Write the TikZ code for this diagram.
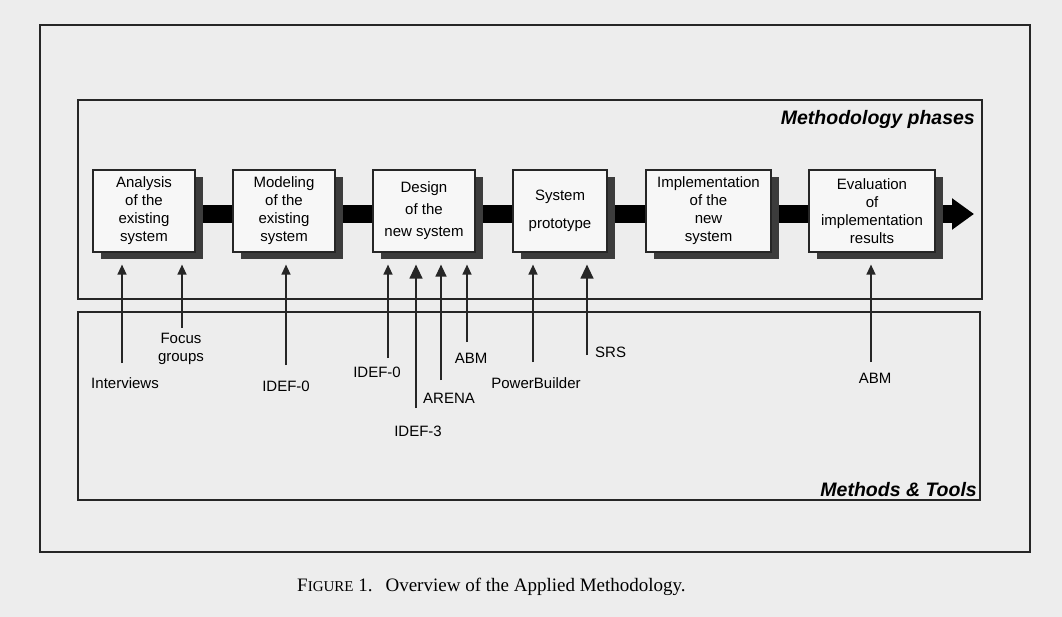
\documentclass[tikz,border=0pt]{standalone}
\usepackage{fontspec}
\setmainfont{Liberation Serif}
\setsansfont{Liberation Sans}
\usetikzlibrary{arrows.meta,shadows,calc}

\definecolor{paper}{HTML}{EDEDED}
\definecolor{boxfill}{HTML}{F7F7F7}
\definecolor{ink}{HTML}{262626}
\definecolor{shade}{HTML}{3C3C3C}

\pgfdeclarelayer{paperlayer}
\pgfdeclarelayer{barlayer}
\pgfsetlayers{paperlayer,barlayer,main}

\begin{document}
\begin{tikzpicture}[x=1pt,y=-1pt,
  phase/.style={draw=ink, line width=1.2pt, fill=boxfill, align=center,
    font=\sffamily\fontsize{15}{18}\selectfont, inner sep=0pt,
    minimum height=82pt,
    drop shadow={shadow xshift=8pt, shadow yshift=-7pt, fill=shade, opacity=1}},
  frame/.style={draw=ink, line width=1.3pt},
  flowbar/.style={draw=black, line width=18pt},
  feed/.style={draw=ink, line width=1.3pt, -{Triangle[length=10pt,width=9pt]}},
  midfeed/.style={draw=ink, line width=1.3pt, -{Triangle[length=12pt,width=11pt]}},
  bigfeed/.style={draw=ink, line width=1.3pt, -{Triangle[length=14pt,width=13pt]}},
  tool/.style={font=\sffamily\fontsize{15}{18}\selectfont, inner sep=0pt, align=center},
  heading/.style={font=\sffamily\bfseries\itshape\fontsize{19.5}{22}\selectfont, inner sep=0pt, anchor=east},
]
\useasboundingbox (0,0) rectangle (1062,617);
\begin{pgfonlayer}{paperlayer}
  \fill[paper] (0,0) rectangle (1062,617);
\end{pgfonlayer}

% frames
\draw[frame] (40,25) rectangle (1030,552);
\draw[frame] (78,100) rectangle (982,299);
\draw[frame] (78,312) rectangle (980,500);

\node[heading] (mphases) at (975,119) {Methodology phases};
\node[heading] (mtools) at (977,490) {Methods \& Tools};

% methodology phases
\node[phase, minimum width=102pt] (b1) at (144,211) {Analysis\\of the\\existing\\system};
\node[phase, minimum width=102pt] (b2) at (284,211) {Modeling\\of the\\existing\\system};
\node[phase, minimum width=102pt] (b3) at (424,211) {Design\\[4pt]of the\\[4pt]new system};
\node[phase, minimum width=94pt]  (b4) at (560,211) {System\\[10pt]prototype};
\node[phase, minimum width=125pt] (b5) at (708.5,211) {Implementation\\of the\\new\\system};
\node[phase, minimum width=126pt] (b6) at (872,211) {Evaluation\\of\\implementation\\results};

\coordinate (flowend) at (974,214);
\begin{pgfonlayer}{barlayer}
  \draw[flowbar] ($(b1.center)+(0,3)$) -- ($(b6.center)+(0,3)$);
  \draw[flowbar, -{Triangle[length=22pt 0 0,width=30pt 0 0]}] ($(b6.east)+(0,3)$) -- (flowend);
\end{pgfonlayer}

% entry points just below each phase
\coordinate (in1) at ($(b1.south)+(0,12)$);
\coordinate (in2) at ($(b2.south)+(0,12)$);
\coordinate (in3) at ($(b3.south)+(0,12)$);
\coordinate (in4) at ($(b4.south)+(0,12)$);
\coordinate (in6) at ($(b6.south)+(0,12)$);

% methods and tools
\node[tool] (interviews) at (125,383) {Interviews};
\node[tool] (focus) at (181,349) {Focus\\groups};
\node[tool] (idefa) at (286,386) {IDEF-0};
\node[tool] (idefb) at (377,372) {IDEF-0};
\node[tool] (idefc) at (418,431) {IDEF-3};
\node[tool] (arena) at (449,398) {ARENA};
\node[tool] (abma) at (471,358) {ABM};
\node[tool] (pbuilder) at (536,383) {PowerBuilder};
\node[tool, anchor=west] (srs) at (595,352) {SRS};
\node[tool] (abmb) at (875,378) {ABM};

\coordinate (s1) at (122,363);
\coordinate (s2) at (182,328);
\coordinate (s3) at (286,365);
\coordinate (s4) at (388,358);
\coordinate (s5) at (416,408);
\coordinate (s6) at (441,380);
\coordinate (s7) at (467,342);
\coordinate (s8) at (533,362);
\coordinate (s9) at (587,355);
\coordinate (s10) at (871,362);

\draw[feed] (s1) -- (s1 |- in1);
\draw[feed] (s2) -- (s2 |- in1);
\draw[feed] (s3) -- (s3 |- in2);
\draw[feed] (s4) -- (s4 |- in3);
\draw[bigfeed] (s5) -- (s5 |- in3);
\draw[midfeed] (s6) -- (s6 |- in3);
\draw[feed] (s7) -- (s7 |- in3);
\draw[feed] (s8) -- (s8 |- in4);
\draw[bigfeed] (s9) -- (s9 |- in4);
\draw[feed] (s10) -- (s10 |- in6);

% caption
\node[inner sep=0pt, anchor=west] (caption) at (297,587)
  {\fontsize{19}{22}\selectfont F{\fontsize{15}{18}\selectfont IGURE} 1.\hspace{13pt}Overview of the Applied Methodology.};
\end{tikzpicture}
\end{document}
